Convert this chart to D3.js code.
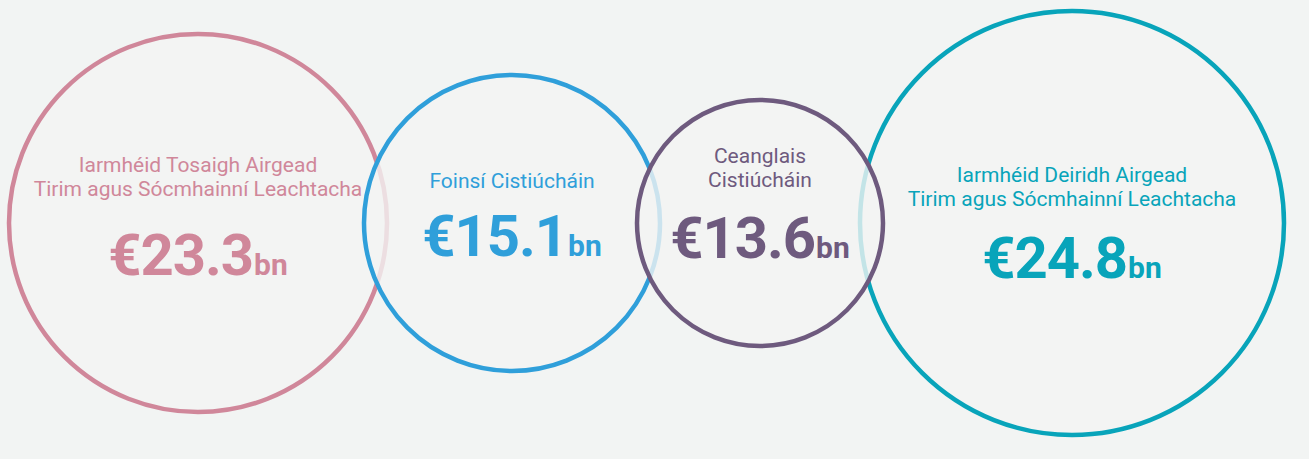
<!DOCTYPE html>
<html>
<head>
<meta charset="utf-8">
<script src="https://cdn.jsdelivr.net/npm/d3@7"></script>
<style>
  body { margin: 0; background: #f2f4f3; }
  svg { display: block; }
</style>
</head>
<body>
<svg id="chart" width="1309" height="459"></svg>
<script>
// data
const categories = ["opening", "sources", "requirements", "closing"];
const labels = [
  ["Iarmhéid Tosaigh Airgead", "Tirim agus Sócmhainní Leachtacha"],
  ["Foinsí Cistiúcháin"],
  ["Ceanglais", "Cistiúcháin"],
  ["Iarmhéid Deiridh Airgead", "Tirim agus Sócmhainní Leachtacha"]
];
const values = [23.3, 15.1, 13.6, 24.8];
const currency = "€";
const unit = "bn";

// layout / style
const bg = "#f2f4f3";
const colour = d3.scaleOrdinal()
  .domain(categories)
  .range(["#d0879a", "#2f9fda", "#6e5a7e", "#08a4ba"]);
// ring sizes are not proportional in the original artwork
const radius = d3.scaleOrdinal()
  .domain(categories)
  .range([189, 148, 123, 212]);
const labelDy = [-51, -35, -60, -41];   // first label baseline vs centre
const numberDy = [52, 33, 35, 55];      // value baseline vs centre
const overlap = 23;
const cy = 223;

var rows = [];
var x = 9;
categories.forEach(function(c, i){
  var r = radius(c);
  var cx = i == 0 ? x + r : x + r - overlap;
  rows.push({cat: c, i: i, label: labels[i], value: values[i], r: r, cx: cx});
  x = cx + r;
});

const svg = d3.select("#chart");
svg.append("rect").attr("width", 1309).attr("height", 459).attr("fill", bg);

// later circles sit on top and wash out the rings below
const drawOrder = [0, 1, 3, 2];

svg.selectAll("circle")
  .data(drawOrder.map(i => rows[i]))
  .join("circle")
    .attr("cx", d => d.cx)
    .attr("cy", cy)
    .attr("r", d => d.r)
    .attr("fill", bg)
    .attr("fill-opacity", 0.8)
    .attr("stroke", d => colour(d.cat))
    .attr("stroke-width", 4.5);

const g = svg.selectAll("g.txt")
  .data(rows)
  .join("g")
    .attr("class", "txt")
    .attr("transform", d => "translate(" + d.cx + "," + cy + ")")
    .attr("fill", d => colour(d.cat))
    .attr("font-family", "Roboto, 'Noto Sans', sans-serif")
    .attr("text-anchor", "middle");

g.each(function(d){
  var el = d3.select(this);
  d.label.forEach(function(line, k){
    el.append("text")
      .attr("y", labelDy[d.i] + k * 24)
      .attr("font-size", 21)
      .text(line);
  });
  var t = el.append("text")
    .attr("y", numberDy[d.i])
    .attr("font-weight", 700);
  t.append("tspan")
    .attr("font-size", 58)
    .attr("letter-spacing", -1)
    .text(currency + d3.format(".1f")(d.value));
  t.append("tspan")
    .attr("font-size", 30)
    .attr("dx", 1)
    .text(unit);
});
</script>
</body>
</html>
